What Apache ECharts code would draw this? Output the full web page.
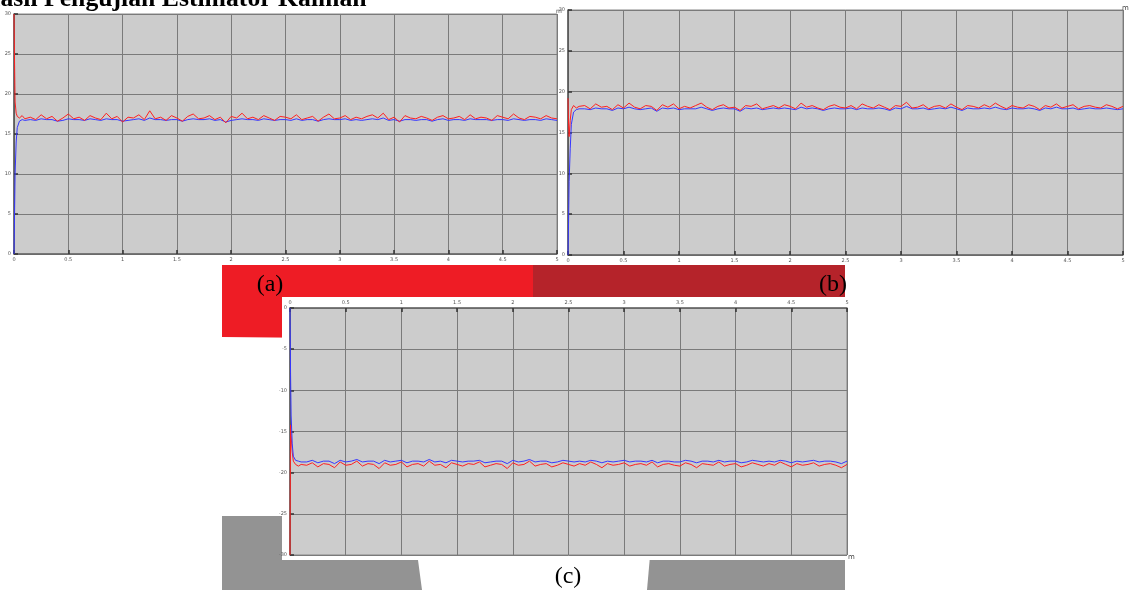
<!DOCTYPE html>
<html>
<head>
<meta charset="utf-8">
<script src="https://cdn.jsdelivr.net/npm/echarts@6/dist/echarts.min.js"></script>
<style>html,body{margin:0;padding:0;background:#fff;}#c{width:1129px;height:590px;}</style>
</head>
<body>
<div id="c"></div>
<script>
// time samples (s)
const time = [0,0.005,0.01,0.02,0.03,0.05,0.075,0.1,
0.15,0.2,0.25,0.3,0.35,0.4,0.45,0.5,0.55,0.6,0.65,0.7,0.75,0.8,0.85,0.9,0.95,1,
1.05,1.1,1.15,1.2,1.25,1.3,1.35,1.4,1.45,1.5,1.55,1.6,1.65,1.7,1.75,1.8,1.85,1.9,1.95,2,
2.05,2.1,2.15,2.2,2.25,2.3,2.35,2.4,2.45,2.5,2.55,2.6,2.65,2.7,2.75,2.8,2.85,2.9,2.95,3,
3.05,3.1,3.15,3.2,3.25,3.3,3.35,3.4,3.45,3.5,3.55,3.6,3.65,3.7,3.75,3.8,3.85,3.9,3.95,4,
4.05,4.1,4.15,4.2,4.25,4.3,4.35,4.4,4.45,4.5,4.55,4.6,4.65,4.7,4.75,4.8,4.85,4.9,4.95,5];

const xTicks = [0,0.5,1,1.5,2,2.5,3,3.5,4,4.5,5];
const yTicksAB = [0,5,10,15,20,25,30];
const yTicksC = [-30,-25,-20,-15,-10,-5,0];

// (a)
const aMeasured = [30,24,19,17.6,17.2,17.0,17.3,16.9,
17.1,16.8,17.4,16.9,17.2,16.6,17.0,17.5,16.9,17.1,
16.7,17.3,17.0,16.8,17.6,16.9,17.2,16.5,17.1,17.0,
17.4,16.8,17.9,16.9,17.1,16.7,17.3,17.0,16.6,17.2,
17.5,16.9,17.0,17.3,16.8,17.1,16.4,17.2,17.0,17.6,
16.9,17.1,16.8,17.3,17.0,16.7,17.2,17.1,16.9,17.4,
16.8,17.0,17.2,16.6,17.1,17.5,16.9,17.0,17.3,16.8,
17.1,16.9,17.2,17.4,17.0,17.6,16.8,17.1,16.5,17.3,
17.0,16.9,17.2,17.0,16.7,17.1,17.3,16.9,17.0,17.2,
16.8,17.4,16.9,17.1,17.0,16.7,17.3,17.1,16.9,17.5,
17.0,16.8,17.2,17.1,16.9,17.3,17.0,16.9];
const aEstimate = [0,5,10,14,15.8,16.6,16.8,16.7,
16.8,16.7,16.9,16.8,16.8,16.6,16.7,16.9,16.8,16.8,
16.7,16.9,16.8,16.7,16.9,16.8,16.8,16.6,16.7,16.8,
16.9,16.7,17.0,16.8,16.8,16.7,16.8,16.8,16.6,16.8,
16.9,16.8,16.8,16.9,16.7,16.8,16.5,16.7,16.8,16.9,
16.8,16.8,16.7,16.9,16.8,16.7,16.8,16.8,16.7,16.9,
16.7,16.8,16.8,16.6,16.8,16.9,16.8,16.8,16.9,16.7,
16.8,16.7,16.8,16.9,16.8,17.0,16.7,16.8,16.6,16.8,
16.8,16.7,16.8,16.8,16.6,16.8,16.9,16.7,16.8,16.8,
16.7,16.9,16.8,16.8,16.8,16.7,16.8,16.8,16.7,16.9,
16.8,16.7,16.8,16.8,16.7,16.9,16.8,16.7];

// (b)
const bMeasured = [19.2,16,14.5,16.5,17.8,18.3,18.0,18.2,
18.3,17.9,18.5,18.1,18.2,17.8,18.4,18.0,18.6,18.1,
17.9,18.3,18.2,17.7,18.4,18.1,18.5,17.9,18.2,18.0,
18.3,18.6,18.1,17.8,18.2,18.4,18.0,18.1,17.7,18.3,
18.2,18.5,17.9,18.1,18.3,18.0,18.4,18.2,17.9,18.6,
18.1,18.3,18.0,17.8,18.2,18.4,18.1,18.0,18.3,17.9,
18.5,18.2,18.0,18.4,18.1,17.8,18.3,18.2,18.7,18.0,
18.1,18.4,17.9,18.2,18.3,18.0,18.5,18.1,17.8,18.3,
18.2,18.0,18.4,18.1,18.6,18.2,17.9,18.3,18.1,18.0,
18.4,18.2,17.8,18.3,18.1,18.5,18.0,18.2,18.4,17.9,
18.2,18.3,18.1,18.0,18.4,18.2,17.9,18.2];
const bEstimate = [0,4,9,13,16,17.5,17.8,17.9,
17.9,17.8,18.0,17.9,17.9,17.7,18.0,17.9,18.1,17.9,
17.8,17.9,18.0,17.6,18.0,17.9,18.0,17.8,17.9,17.9,
17.9,18.1,17.9,17.7,17.9,18.0,17.9,17.9,17.6,18.0,
17.9,18.0,17.8,17.9,18.0,17.9,18.0,17.9,17.8,18.1,
17.9,18.0,17.9,17.7,17.9,18.0,17.9,17.9,18.0,17.8,
18.0,17.9,17.9,18.0,17.9,17.7,18.0,17.9,18.2,17.9,
17.9,18.0,17.8,17.9,18.0,17.9,18.1,17.9,17.7,18.0,
17.9,17.9,18.0,17.9,18.1,17.9,17.8,18.0,17.9,17.9,
18.0,17.9,17.7,18.0,17.9,18.1,17.9,17.9,18.0,17.8,
17.9,18.0,17.9,17.9,18.0,17.9,17.8,17.9];

// (c)
const cMeasured = [-30,-14.2,-15.5,-17.5,-18.6,-19.0,-19.2,-19.0,
-19.1,-18.8,-19.3,-18.9,-19.0,-19.4,-18.7,-19.1,-19.0,-18.6,
-19.2,-18.9,-19.0,-19.5,-18.8,-19.1,-19.0,-18.7,-19.3,-19.0,
-18.9,-19.2,-18.6,-19.1,-19.0,-19.4,-18.8,-19.0,-19.2,-18.9,
-19.0,-18.7,-19.3,-19.1,-18.9,-19.0,-19.5,-18.8,-19.1,-19.0,
-18.6,-19.2,-19.0,-18.9,-19.3,-19.1,-18.8,-19.0,-19.2,-18.9,
-19.1,-18.7,-19.0,-19.4,-18.9,-19.1,-19.0,-18.8,-19.2,-19.0,
-18.9,-19.1,-18.7,-19.3,-19.0,-18.9,-19.1,-19.2,-18.8,-19.0,
-19.4,-18.9,-19.0,-19.1,-18.7,-19.2,-19.0,-18.9,-19.3,-19.1,
-18.8,-19.0,-19.2,-18.9,-19.1,-18.7,-19.0,-19.3,-18.9,-19.1,
-19.0,-18.8,-19.2,-19.0,-18.9,-19.1,-19.4,-19.0];
const cEstimate = [0,-8,-13,-16.5,-18,-18.5,-18.6,-18.7,
-18.7,-18.5,-18.8,-18.6,-18.6,-18.9,-18.5,-18.7,-18.6,-18.4,
-18.7,-18.6,-18.6,-18.9,-18.5,-18.7,-18.6,-18.5,-18.8,-18.6,
-18.6,-18.7,-18.4,-18.7,-18.6,-18.8,-18.5,-18.6,-18.7,-18.6,
-18.6,-18.5,-18.8,-18.7,-18.6,-18.6,-18.9,-18.5,-18.7,-18.6,
-18.4,-18.7,-18.6,-18.6,-18.8,-18.7,-18.5,-18.6,-18.7,-18.6,
-18.7,-18.5,-18.6,-18.8,-18.6,-18.7,-18.6,-18.5,-18.7,-18.6,
-18.6,-18.7,-18.5,-18.8,-18.6,-18.6,-18.7,-18.7,-18.5,-18.6,
-18.8,-18.6,-18.6,-18.7,-18.5,-18.7,-18.6,-18.6,-18.8,-18.7,
-18.5,-18.6,-18.7,-18.6,-18.7,-18.5,-18.6,-18.8,-18.6,-18.7,
-18.6,-18.5,-18.7,-18.6,-18.6,-18.7,-18.9,-18.6];

const titleText = 'Hasil Pengujian Estimator Kalman';
const panelLabels = ['(a)', '(b)', '(c)'];

const pair = arr => time.map((t, i) => [t, arr[i]]);

const chart = echarts.init(document.getElementById('c'), null, {renderer: 'canvas'});

const labelStyle = {fontSize: 5, color: '#555', fontFamily: 'DejaVu Sans'};
function mkX(idx, pos) {
  return {
    type: 'value', gridIndex: idx, min: xTicks[0], max: xTicks[xTicks.length - 1], interval: 0.5,
    position: pos, z: 6,
    axisLine: {show: true, lineStyle: {color: '#666', width: 1.5}},
    axisTick: {show: true, inside: true, length: 4, lineStyle: {color: '#333', width: 1.5}},
    axisLabel: Object.assign({margin: 3}, labelStyle),
    splitLine: {show: true, lineStyle: {color: '#7a7a7a', width: 1}}
  };
}
function mkY(idx, ticks) {
  return {
    type: 'value', gridIndex: idx, min: ticks[0], max: ticks[ticks.length - 1], interval: 5, z: 6,
    axisLine: {show: true, onZero: false, lineStyle: {color: '#555', width: 1.5}},
    axisTick: {show: true, inside: true, length: 4, lineStyle: {color: '#333', width: 1.5}},
    axisLabel: Object.assign({margin: 3}, labelStyle),
    splitLine: {show: true, lineStyle: {color: '#7a7a7a', width: 1}}
  };
}
function line(xi, data, color, z) {
  return {
    type: 'line', xAxisIndex: xi, yAxisIndex: xi, data: pair(data), showSymbol: false, symbol: 'none',
    lineStyle: {color: color, width: 1}, z: z, clip: true
  };
}

const red = '#ff1f1f';
const blue = '#3636ff';

chart.setOption({
  animation: false,
  backgroundColor: '#fff',
  grid: [
    {left: 14, top: 14, width: 543, height: 240, show: true, backgroundColor: '#cccccc', borderColor: '#888', borderWidth: 1, z: 5},
    {left: 568, top: 10, width: 555, height: 245, show: true, backgroundColor: '#cccccc', borderColor: '#888', borderWidth: 1, z: 5},
    {left: 290, top: 308, width: 557, height: 247, show: true, backgroundColor: '#cccccc', borderColor: '#888', borderWidth: 1, z: 5}
  ],
  xAxis: [mkX(0, 'bottom'), mkX(1, 'bottom'), mkX(2, 'top')],
  yAxis: [mkY(0, yTicksAB), mkY(1, yTicksAB), mkY(2, yTicksC)],
  series: [
    line(0, aEstimate, blue, 8), line(0, aMeasured, red, 9),
    line(1, bEstimate, blue, 8), line(1, bMeasured, red, 9),
    line(2, cMeasured, red, 8), line(2, cEstimate, blue, 9)
  ],
  graphic: [
    {type: 'polygon', z: 1, shape: {points: [[222,265],[533,265],[533,340],[222,337]]}, style: {fill: '#ee1c25'}},
    {type: 'rect', z: 1, shape: {x: 533, y: 265, width: 312, height: 32}, style: {fill: '#b5232a'}},
    {type: 'polygon', z: 1, shape: {points: [[222,516],[415,516],[418,560],[422,590],[222,590]]}, style: {fill: '#939393'}},
    {type: 'polygon', z: 1, shape: {points: [[650,556],[845,556],[845,590],[647,590]]}, style: {fill: '#939393'}},
    {type: 'rect', z: 2, shape: {x: 282, y: 297, width: 568, height: 263}, style: {fill: '#ffffff'}},
    {type: 'text', z: 20, style: {x: -19.5, y: -1, text: titleText, font: 'bold 25.7px "Liberation Serif"', fill: '#000', verticalAlign: 'middle'}},
    {type: 'text', z: 20, style: {x: 270, y: 285, text: panelLabels[0], font: '24px "Liberation Serif"', fill: '#000', align: 'center', verticalAlign: 'middle'}},
    {type: 'text', z: 20, style: {x: 833, y: 285, text: panelLabels[1], font: '24px "Liberation Serif"', fill: '#000', align: 'center', verticalAlign: 'middle'}},
    {type: 'text', z: 20, style: {x: 568, y: 577, text: panelLabels[2], font: '24px "Liberation Serif"', fill: '#000', align: 'center', verticalAlign: 'middle'}},
    {type: 'text', z: 20, style: {x: 1122, y: 8, text: 'm', font: '7px "DejaVu Sans"', fill: '#444', verticalAlign: 'middle'}},
    {type: 'text', z: 20, style: {x: 556, y: 11, text: 'm', font: '6px "DejaVu Sans"', fill: '#444', verticalAlign: 'middle'}},
    {type: 'text', z: 20, style: {x: 848, y: 557, text: 'm', font: '7px "DejaVu Sans"', fill: '#444', verticalAlign: 'middle'}}
  ]
});
</script>
</body>
</html>
